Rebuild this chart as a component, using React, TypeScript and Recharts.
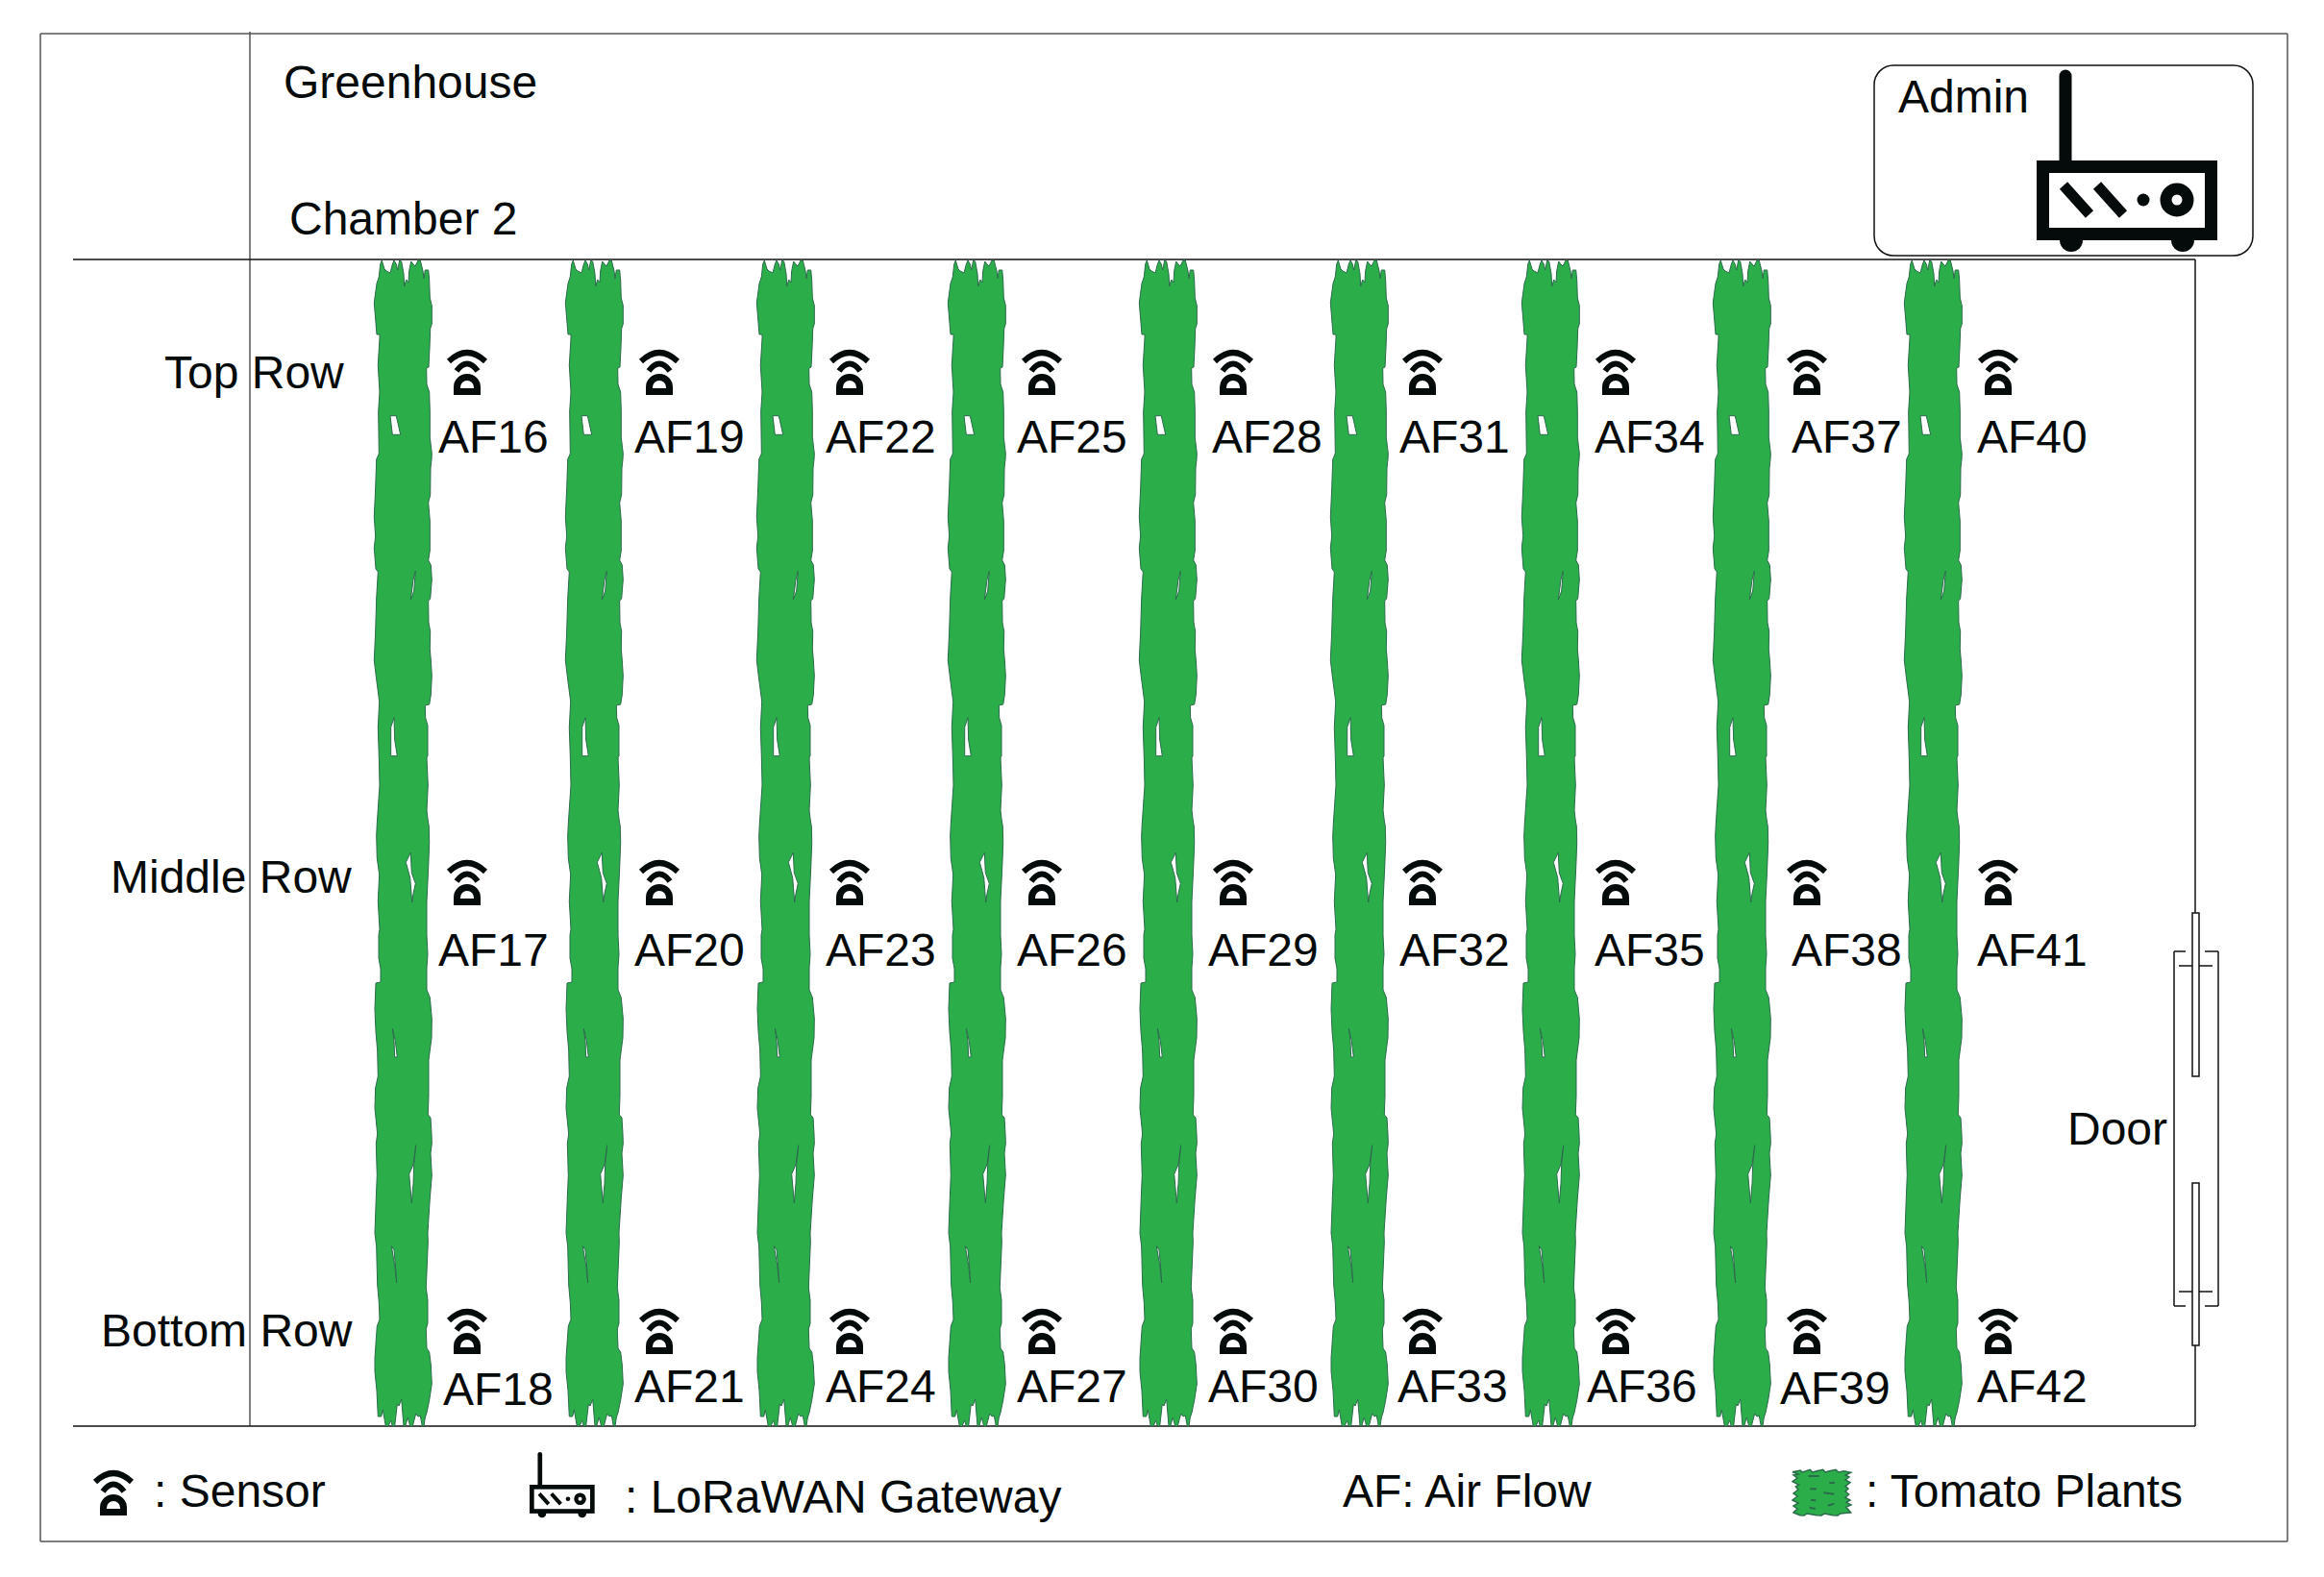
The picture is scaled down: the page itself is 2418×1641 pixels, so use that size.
import {
  ScatterChart,
  Scatter,
  XAxis,
  YAxis,
  ReferenceLine,
  ReferenceArea,
} from "recharts";

const FONT = "'Liberation Sans', Arial, sans-serif";
const GREEN = "#2bae4a";
const GREEN_EDGE = "#2a6b4a";
const INK = "#050a0a";

// the picture is a floor plan, so the axes simply run in picture units
const PLAN_W = 2418;
const PLAN_H = 1641;

/* ─── Plant rows ─── */
const plantCenters = [420, 619, 818, 1017, 1216, 1415, 1614, 1813, 2012];

// outline of one row: [offset from centre, y], clockwise from the top left
const plantOutline = [
  [-25.7, 288], [-24.3, 275], [-22.7, 271], [-20, 280], [-18, 282], [-14, 284], [-11.7, 275], [-10, 271],
  [-7.7, 275], [-6.3, 281], [-4.3, 271], [-2.3, 272], [0, 285], [0.7, 298], [2.7, 291], [5, 294],
  [5.7, 282], [7.7, 272], [10, 275], [12, 277], [15, 271], [17.3, 271], [20, 282], [21, 290],
  [22.3, 281], [25.7, 281], [26.7, 292], [27.3, 310], [29.3, 318], [29.3, 337], [27.7, 342], [27, 362],
  [26, 382], [23.7, 383], [24, 400], [26.7, 408], [27.3, 428], [27.3, 455], [29.3, 472], [29, 478],
  [28, 487], [27.7, 515], [25.7, 523], [27.3, 542], [27.3, 565], [27.3, 573], [25.7, 583], [28.3, 588],
  [29.3, 603], [27.7, 623], [25.7, 625], [26, 648], [27.7, 657], [27.3, 675], [28.3, 687], [29.3, 703],
  [28.3, 723], [26.7, 733], [22.3, 734], [22.7, 747], [25, 755], [25, 787], [24, 788], [25.3, 817],
  [24, 843], [25, 852], [26.3, 860], [26.7, 877], [25.7, 903], [24, 938], [24, 973], [25, 993],
  [24, 1007], [24, 1030], [27.3, 1038], [29.3, 1060], [29, 1080], [26, 1103], [26, 1140], [25.3, 1160],
  [28, 1163], [29, 1180], [29.3, 1190], [28, 1200], [29.3, 1223], [27.3, 1247], [25, 1283], [25.3, 1293],
  [23.3, 1340], [25, 1353], [25, 1377], [23.3, 1383], [24, 1403], [26.7, 1407], [28.3, 1420], [29.3, 1440],
  [26.7, 1457], [24, 1470], [22.3, 1475], [21, 1484], [19.3, 1484], [17.3, 1473], [15, 1474], [12.7, 1471],
  [9.3, 1484], [6.7, 1484], [4.3, 1475], [1.7, 1484], [0, 1484], [-2.3, 1456], [-5, 1463], [-6.7, 1461],
  [-9.3, 1484], [-11.7, 1484], [-13.3, 1478], [-16, 1484], [-18.7, 1484], [-21.7, 1467], [-23.3, 1474], [-26.7, 1474],
  [-28, 1447], [-30, 1427], [-30, 1413], [-27.7, 1380], [-25, 1373], [-25.7, 1355], [-27.3, 1337], [-28.3, 1297],
  [-30, 1283], [-28.7, 1247], [-27.7, 1223], [-28.7, 1190], [-27.3, 1180], [-30, 1153], [-29.3, 1132], [-26.7, 1120],
  [-27.3, 1093], [-29, 1073], [-30, 1050], [-29, 1023], [-24, 1022], [-24, 1008], [-26, 997], [-26, 973],
  [-25, 967], [-26.7, 938], [-25.3, 910], [-27.7, 893], [-28.3, 870], [-27.7, 857], [-25, 817], [-25.7, 787],
  [-26.7, 757], [-25.3, 730], [-28.3, 707], [-30.7, 687], [-29.3, 657], [-28.3, 623], [-26.7, 595], [-29, 592],
  [-30.7, 570], [-29.3, 558], [-30.7, 538], [-29.3, 508], [-28.3, 478], [-25.7, 472], [-26.3, 428], [-25, 408],
  [-26.7, 380], [-25, 352], [-25, 348], [-28, 348], [-30.7, 315], [-28, 295], [-25.7, 288],
];

// white slits inside a row, same convention
const plantGaps = [
  [[-14, 432.7], [-7.7, 432.7], [-3.3, 452.3], [-11.7, 452.3], [-14, 432.7]],
  [[12.3, 594.3], [10.7, 615], [7.3, 624], [10, 603.3], [12.3, 594.3]],
  [[-10, 746.7], [-13.3, 756.7], [-13.3, 786.7], [-6.7, 786.7], [-9.3, 770], [-10, 746.7]],
  [[7.3, 887.3], [2.3, 897.3], [6.7, 913.3], [8.7, 939], [10, 930], [12.3, 919.3], [8.3, 908.3], [7.3, 887.3]],
  [[-11.7, 1070], [-10, 1083.3], [-9.3, 1100], [-6.7, 1100], [-8.7, 1083.3], [-11.7, 1070]],
  [[12.7, 1191.7], [10, 1211.7], [5.7, 1221.7], [8.3, 1251.7], [10, 1231.7], [10.7, 1211.7], [12.7, 1191.7]],
  [[-12.7, 1296.7], [-9.3, 1316.7], [-7.3, 1335], [-8.3, 1320], [-10, 1300.7], [-12.7, 1296.7]],
];

/* ─── Sensors and AF labels ─── */
const sensorX = [486, 686, 884, 1084, 1283, 1480, 1681, 1880, 2079];
const sensorRowY = [411, 942, 1409];
const legendSensor = [{ x: 118, y: 1577 }];

const topLabels = ["AF16", "AF19", "AF22", "AF25", "AF28", "AF31", "AF34", "AF37", "AF40"];
const topLabelX = [456, 660, 859, 1058, 1261, 1456, 1659, 1864, 2057];
const middleLabels = ["AF17", "AF20", "AF23", "AF26", "AF29", "AF32", "AF35", "AF38", "AF41"];
const middleLabelX = [456, 660, 859, 1058, 1257, 1456, 1659, 1864, 2057];
const bottomLabels = ["AF18", "AF21", "AF24", "AF27", "AF30", "AF33", "AF36", "AF39", "AF42"];
const bottomLabelX = [461, 660, 859, 1058, 1257, 1454, 1651, 1852, 2057];
const bottomLabelY = [1462, 1459, 1459, 1459, 1459, 1459, 1459, 1461, 1459];

/* ─── Other text: [label, x, baseline] ─── */
const planLabels: [string, number, number][] = [
  ["Greenhouse", 295, 102],
  ["Chamber 2", 301, 244],
  ["Admin", 1975, 117],
  ["Top Row", 171, 404],
  ["Middle Row", 115, 929],
  ["Bottom Row", 105, 1401],
  ["Door", 2151, 1191],
  [": Sensor", 160, 1568],
  [": LoRaWAN Gateway", 650, 1574],
  ["AF: Air Flow", 1397, 1568],
  [": Tomato Plants", 1941, 1568],
];

/* ─── Gateways: box corner and scale ─── */
const gateways = [
  { x: 2119, y: 167, scale: 1 },
  { x: 551, y: 1545, scale: 0.36 },
];

/* ─── Walls: [x1, y1, x2, y2] ─── */
const thinWalls = [
  [42, 35, 2380, 35],
  [42, 1604, 2380, 1604],
  [42, 35, 42, 1604],
  [2380, 35, 2380, 1604],
  [260, 33, 260, 1484],
];
const roomWalls = [
  [76, 270, 2284, 270],
  [76, 1484, 2284, 1484],
  [2284, 270, 2284, 950],
  [2284, 1400, 2284, 1484],
  // door frame
  [2262, 990, 2274, 990],
  [2294, 990, 2308, 990],
  [2262, 1359, 2274, 1359],
  [2294, 1359, 2308, 1359],
  [2262, 990, 2262, 1359],
  [2308, 990, 2308, 1359],
  [2267, 1005, 2281, 1005],
  [2288, 1005, 2302, 1005],
  [2267, 1344, 2281, 1344],
  [2288, 1344, 2302, 1344],
];
const doorLeaves = [
  [2281, 950, 2288, 1120],
  [2281, 1231, 2288, 1400],
];
const adminBox = [1950, 68, 2344, 266];

/* ─── Tomato legend swatch ─── */
const tomatoSwatch = [
  [1865, 1531.7], [1873.3, 1530], [1875, 1532], [1878.3, 1531], [1883.3, 1529.3], [1886, 1532], [1890, 1530.7],
  [1896.7, 1529.3], [1899, 1532], [1903.3, 1530.7], [1910, 1529.3], [1913, 1532], [1918.3, 1530.7], [1925.7, 1532.3],
  [1920, 1535], [1924, 1537], [1920, 1540], [1925, 1542.7], [1920, 1546.7], [1923, 1549], [1920, 1552],
  [1923.7, 1555], [1920, 1558.3], [1925, 1561], [1921, 1563.3], [1926, 1566], [1920.7, 1568.3], [1925.7, 1574],
  [1915, 1575], [1912, 1577], [1906.7, 1576.7], [1898.3, 1575], [1895, 1577], [1890, 1576.7], [1880, 1575],
  [1877, 1577], [1872.7, 1576.7], [1866, 1574], [1870, 1570], [1866, 1567], [1871, 1564], [1865, 1561],
  [1870, 1557], [1866, 1554], [1871, 1550], [1868.3, 1547], [1871.7, 1545], [1865, 1541.7], [1870, 1538],
  [1866, 1535], [1871, 1534], [1865, 1531.7],
];
const tomatoMarks = [
  [1881.7, 1536, 1892.7, 1536],
  [1883.3, 1549.3, 1890, 1549.3],
  [1903.3, 1543.3, 1909, 1542.7],
  [1897.3, 1553.3, 1908.3, 1554.7],
  [1884, 1560.7, 1889.3, 1561.3],
  [1882.7, 1568.7, 1888.7, 1570],
  [1901.7, 1566.7, 1908.3, 1564.7],
];

/* ─── Marks ─── */
const NoDot = () => null;

function SensorGlyph({ cx, cy }: { cx?: number; cy?: number }) {
  return (
    <g transform={`translate(${cx},${cy})`} fill="none" stroke={INK}>
      <path d="M-19,-35 Q0,-53 19,-35" strokeWidth={6} />
      <path d="M-11,-25 Q0,-40 11,-25" strokeWidth={6} />
      <path d="M-10.5,-3.5 L-10.5,-8 A10.5,10.5 0 0 1 10.5,-8 L10.5,-3.5 Z" strokeWidth={7} />
    </g>
  );
}

function GatewayGlyph({ cx, cy, payload }: { cx?: number; cy?: number; payload?: { scale: number } }) {
  return (
    <g transform={`translate(${cx},${cy}) scale(${payload?.scale ?? 1})`} fill={INK}>
      <circle cx={36} cy={83} r={12} />
      <circle cx={152} cy={83} r={12} />
      <line x1={30} y1={0} x2={30} y2={-88} stroke={INK} strokeWidth={13} strokeLinecap="round" />
      <rect x={6.5} y={6.5} width={175} height={70} fill="#fff" stroke={INK} strokeWidth={13} />
      <line x1={28} y1={26} x2={55} y2={56} stroke={INK} strokeWidth={11} />
      <line x1={63} y1={26} x2={90} y2={56} stroke={INK} strokeWidth={11} />
      <circle cx={111} cy={41} r={6.5} />
      <circle cx={146} cy={41} r={11.5} fill="#fff" stroke={INK} strokeWidth={12} />
    </g>
  );
}

function PlanText({ cx, cy, payload }: { cx?: number; cy?: number; payload?: { label: string } }) {
  return (
    <text x={cx} y={cy} fontFamily={FONT} fontSize={48} fill={INK}>
      {payload?.label}
    </text>
  );
}

const toPoints = (outline: number[][], dx = 0) => outline.map(([x, y]) => ({ x: x + dx, y }));

export default function App() {
  const sensorPoints = sensorRowY.flatMap((y) => sensorX.map((x) => ({ x, y })));
  const afPoints = [
    ...topLabels.map((label, i) => ({ label, x: topLabelX[i], y: 471 })),
    ...middleLabels.map((label, i) => ({ label, x: middleLabelX[i], y: 1005 })),
    ...bottomLabels.map((label, i) => ({ label, x: bottomLabelX[i], y: bottomLabelY[i] })),
  ];
  const textPoints = planLabels.map(([label, x, y]) => ({ label, x, y }));

  return (
    <div style={{ position: "absolute", left: 0, top: 0, width: PLAN_W, height: PLAN_H, background: "#fff" }}>
      <ScatterChart width={PLAN_W} height={PLAN_H} margin={{ top: 0, right: 0, bottom: 0, left: 0 }}>
        <XAxis type="number" dataKey="x" domain={[0, PLAN_W]} hide />
        <YAxis type="number" dataKey="y" domain={[0, PLAN_H]} reversed hide />

        {thinWalls.map(([x1, y1, x2, y2], i) => (
          <ReferenceLine
            key={`thin-${i}`}
            segment={[{ x: x1, y: y1 }, { x: x2, y: y2 }]}
            stroke="#555"
            strokeWidth={1.5}
          />
        ))}
        {roomWalls.map(([x1, y1, x2, y2], i) => (
          <ReferenceLine
            key={`wall-${i}`}
            segment={[{ x: x1, y: y1 }, { x: x2, y: y2 }]}
            stroke="#111"
            strokeWidth={1.5}
          />
        ))}
        {doorLeaves.map(([x1, y1, x2, y2], i) => (
          <ReferenceArea
            key={`leaf-${i}`}
            x1={x1}
            y1={y1}
            x2={x2}
            y2={y2}
            fill="#fff"
            fillOpacity={1}
            stroke="#111"
            strokeWidth={1.5}
          />
        ))}
        <ReferenceArea
          x1={adminBox[0]}
          y1={adminBox[1]}
          x2={adminBox[2]}
          y2={adminBox[3]}
          fill="none"
          stroke="#111"
          strokeWidth={1.5}
          radius={20}
        />

        {plantCenters.map((c) => (
          <Scatter
            key={`plant-${c}`}
            data={toPoints(plantOutline, c)}
            line={{ fill: GREEN, stroke: GREEN_EDGE, strokeWidth: 1 }}
            lineType="joint"
            shape={NoDot}
            isAnimationActive={false}
          />
        ))}
        {plantCenters.flatMap((c) =>
          plantGaps.map((gap, i) => (
            <Scatter
              key={`gap-${c}-${i}`}
              data={toPoints(gap, c)}
              line={{ fill: "#fff", stroke: GREEN_EDGE, strokeWidth: 1 }}
              lineType="joint"
              shape={NoDot}
              isAnimationActive={false}
            />
          ))
        )}

        <Scatter
          data={toPoints(tomatoSwatch)}
          line={{ fill: GREEN, stroke: GREEN_EDGE, strokeWidth: 1.5 }}
          lineType="joint"
          shape={NoDot}
          isAnimationActive={false}
        />
        {tomatoMarks.map(([x1, y1, x2, y2], i) => (
          <Scatter
            key={`mark-${i}`}
            data={[{ x: x1, y: y1 }, { x: x2, y: y2 }]}
            line={{ stroke: GREEN_EDGE, strokeWidth: 2 }}
            lineType="joint"
            shape={NoDot}
            isAnimationActive={false}
          />
        ))}

        <Scatter data={[...sensorPoints, ...legendSensor]} shape={SensorGlyph} isAnimationActive={false} />
        <Scatter data={gateways} shape={GatewayGlyph} isAnimationActive={false} />
        <Scatter data={afPoints} shape={PlanText} isAnimationActive={false} />
        <Scatter data={textPoints} shape={PlanText} isAnimationActive={false} />
      </ScatterChart>
    </div>
  );
}
